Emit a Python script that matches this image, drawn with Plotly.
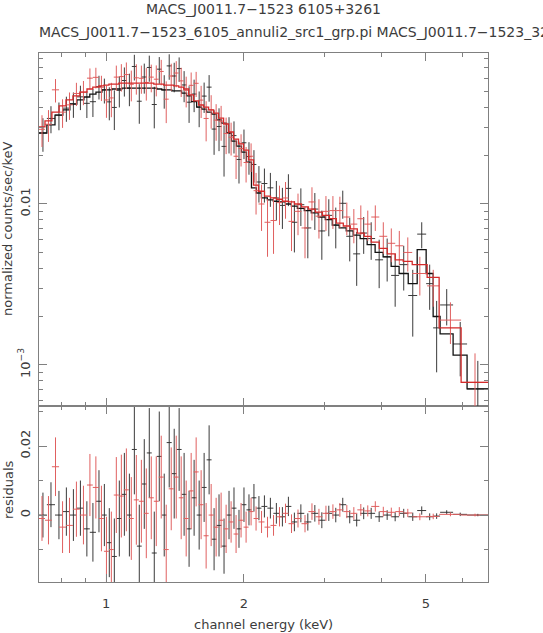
import numpy as np
import plotly.graph_objects as go

# ---------------- data ----------------
# bin edges in keV
black_edges = [0.713, 0.742, 0.773, 0.804, 0.833, 0.863, 0.894, 0.921, 0.950, 0.979,
               1.003, 1.029, 1.055, 1.082, 1.110, 1.138, 1.167, 1.196, 1.227, 1.258,
               1.290, 1.323, 1.356, 1.391, 1.426, 1.462, 1.499, 1.537, 1.577, 1.617,
               1.658, 1.700, 1.743, 1.787, 1.833, 1.879, 1.927, 1.976, 2.026, 2.078,
               2.130, 2.185, 2.251, 2.320, 2.391, 2.465, 2.540, 2.618, 2.711, 2.808,
               2.909, 3.013, 3.121, 3.232, 3.348, 3.467, 3.591, 3.720, 3.872, 4.031,
               4.197, 4.369, 4.574, 4.785, 5.006, 5.185, 5.370, 5.733, 6.151, 6.834]
# folded model (normalized counts/sec/keV)
black_model = [0.0276, 0.0310, 0.0357, 0.0384, 0.0418, 0.0443, 0.0462, 0.0482, 0.0496, 0.0511,
               0.0511, 0.0518, 0.0518, 0.0525, 0.0525, 0.0525, 0.0525, 0.0525, 0.0525, 0.0525,
               0.0518, 0.0511, 0.0511, 0.0504, 0.0504, 0.0489, 0.0469, 0.0432, 0.0400, 0.0388,
               0.0372, 0.0362, 0.0333, 0.0318, 0.0276, 0.0246, 0.0229, 0.0210, 0.0182, 0.0126,
               0.0117, 0.0109, 0.0106, 0.0104, 0.0103, 0.0100, 0.0097, 0.0094, 0.0091, 0.0088,
               0.0083, 0.0080, 0.0074, 0.0071, 0.0068, 0.0064, 0.0061, 0.0056, 0.0050, 0.0047,
               0.0041, 0.0037, 0.0032, 0.0052, 0.0037, 0.0020, 0.00156, 0.00115, 0.00071]
# residuals (data - model), units of 1e-3 counts/sec/keV
black_resid_e3 = [0, 3, 0, 1, 0, 2, -4, -5, 4, 0,
                  -8, -12, -1, 6, 0, 19, -9, 9, 18, -11,
                  17, 0, 21, 12, 19, 6, -4, 5, 0, 8,
                  16, -7, -3, -9, 0, 2, -4, 3, 1.5, 5,
                  2, 2.5, 2, 0.5, -0.5, 2.5, -2, 0.5, -2, 0.5,
                  -1.5, 0.5, 0, 3, -0.5, -1.5, 0.5, 0.5, -0.5, 0,
                  -0.5, 0.5, -0.5, 1.3, -0.5, -0.3, 0.8, 0.2, 0]
# 1-sigma errors, units of 1e-3
black_sigma_e3 = [6.5, 6.5, 7, 7, 7.5, 8, 8, 8.5, 9, 9,
                  10, 11, 11, 12, 12, 13, 12, 13, 13, 12, 13, 12, 13, 13, 12, 12,
                  11, 11, 10, 10, 10, 9, 9, 8,
                  7, 6, 5.5, 5, 4.5, 4, 3.5,
                  3.2, 3.0, 3.0, 2.8, 2.8, 2.7, 2.6, 2.5, 2.4, 2.3, 2.2, 2.1,
                  2.0, 1.9, 1.8, 1.7, 1.6, 1.5, 1.4, 1.3, 1.3, 1.2,
                  1.2, 1.0, 0.8, 0.6, 0.5, 0.35]

red_edges = [0.713, 0.735, 0.761, 0.789, 0.817, 0.846, 0.876, 0.908, 0.935, 0.964,
             0.989, 1.014, 1.039, 1.066, 1.093, 1.121, 1.149, 1.179, 1.209, 1.239,
             1.271, 1.303, 1.336, 1.370, 1.405, 1.441, 1.477, 1.515, 1.553, 1.593,
             1.633, 1.675, 1.718, 1.761, 1.806, 1.852, 1.899, 1.947, 1.997, 2.048,
             2.100, 2.153, 2.219, 2.287, 2.357, 2.429, 2.504, 2.580, 2.673, 2.768,
             2.867, 2.970, 3.076, 3.186, 3.299, 3.417, 3.540, 3.666, 3.797, 3.954,
             4.116, 4.285, 4.461, 4.667, 5.031, 5.344, 5.969, 6.834]
red_model = [0.0301, 0.0328, 0.0372, 0.0407, 0.0443, 0.0469, 0.0496, 0.0518, 0.0532, 0.0541,
             0.0548, 0.0556, 0.0556, 0.0564, 0.0564, 0.0564, 0.0564, 0.0564, 0.0564, 0.0564,
             0.0556, 0.0556, 0.0548, 0.0548, 0.0541, 0.0532, 0.0518, 0.0476, 0.0437, 0.0412,
             0.0400, 0.0384, 0.0367, 0.0342, 0.0314, 0.0280, 0.0253, 0.0236, 0.0216, 0.0188,
             0.0131, 0.0120, 0.0112, 0.0109, 0.0107, 0.0104, 0.0103, 0.0100, 0.0096, 0.0093,
             0.0089, 0.0085, 0.0081, 0.0076, 0.0073, 0.0070, 0.0066, 0.0063, 0.0058, 0.0053,
             0.0049, 0.0045, 0.0044, 0.0042, 0.0035, 0.0017, 0.00078]
red_resid_e3 = [-1, -1.5, 14, -3.5, -3, 1.7, 0, 8.7, 8, -1,
                -10.5, -10, 5.8, 5.5, 7.3, -1, 4.4, 4, 0.5, 5,
                4, 11, -10, 7.6, 11, 5, -1, 7, 12.5, 3,
                -6, 0, -3.5, -1.5, -4, -2, -5.5, -1.5, -3.5, 1,
                -1, -2, -3.5, -3, -0.5, 0.5, -2.5, -1, -2.5, 1,
                -0.5, 0.5, 1, 1.5, 1, 0.5, 1.5, 1.2, 2.5, 1,
                0.8, 1, 0.6, -0.5, -0.4, 0.2, 0]
red_sigma_e3 = [6.5, 7, 8.5, 7.5, 8, 8, 8.5, 9, 9, 9.5,
                10, 11, 11, 12, 12, 12, 13, 12, 13, 12, 13, 12, 13, 12, 12, 12,
                11, 11, 10, 10, 9.5, 9, 8.5, 8,
                7, 6, 5.5, 5, 4.5, 4, 3.5,
                3.2, 3.0, 3.0, 2.8, 2.8, 2.7, 2.6, 2.5, 2.4, 2.3, 2.2, 2.1,
                2.0, 1.9, 1.8, 1.7, 1.6, 1.5, 1.4, 1.35, 1.3, 1.2,
                1.0, 0.8, 0.55, 0.4]

x_tick_vals = [1, 2, 5]
x_tick_text = ["1", "2", "5"]
x_minor_vals = [0.8, 0.9, 3, 4, 6]
y_tick_vals = [0.001, 0.01]
y_tick_text = ["10<sup>\u22123</sup>", "0.01"]
y_minor_vals = [6e-4, 7e-4, 8e-4, 9e-4, 2e-3, 3e-3, 4e-3, 5e-3, 6e-3, 7e-3, 8e-3, 9e-3,
                2e-2, 3e-2, 4e-2, 5e-2, 6e-2, 7e-2, 8e-2]
r_tick_vals = [0, 0.02]
r_tick_text = ["0", "0.02"]
r_minor_vals = [-0.01, 0.01, 0.03]

title1 = "MACS_J0011.7\u22121523 6105+3261"
title2 = "MACS_J0011.7\u22121523_6105_annuli2_src1_grp.pi MACS_J0011.7\u22121523_3261_annuli2_src1_grp.pi"

# ---------------- figure ----------------
BLACK_D = "#3a3a3a"
BLACK_M = "#111111"
RED_D = "#e06060"
RED_M = "#d42a2a"
FRAME = "#808080"
TXT = "#3c3c3c"
FONT = "DejaVu Sans"

fig = go.Figure()


def add_set(edges, model, resid_e3, sigma_e3, dcol, mcol):
    e = np.array(edges)
    lo, hi = e[:-1], e[1:]
    c = 0.5 * (lo + hi)
    m = np.array(model)
    r = np.array(resid_e3) * 1e-3
    s = np.array(sigma_e3) * 1e-3
    d = m + r
    ex = dict(type="data", symmetric=False, array=hi - c, arrayminus=c - lo,
              width=0, thickness=1, color=dcol)
    ey = dict(type="data", array=s, width=0, thickness=1, color=dcol)
    fig.add_trace(go.Scatter(x=c, y=d, mode="markers", marker=dict(size=1, color=dcol),
                             error_x=ex, error_y=ey, xaxis="x2", yaxis="y",
                             showlegend=False, hoverinfo="skip"))
    fig.add_trace(go.Scatter(x=list(e), y=list(m) + [m[-1]], mode="lines",
                             line=dict(shape="hv", width=1.3, color=mcol),
                             xaxis="x2", yaxis="y", showlegend=False, hoverinfo="skip"))
    fig.add_trace(go.Scatter(x=c, y=r, mode="markers", marker=dict(size=1, color=dcol),
                             error_x=ex, error_y=ey, xaxis="x", yaxis="y2",
                             showlegend=False, hoverinfo="skip"))


add_set(black_edges, black_model, black_resid_e3, black_sigma_e3, BLACK_D, BLACK_M)
add_set(red_edges, red_model, red_resid_e3, red_sigma_e3, RED_D, RED_M)

L, R, T, B = 39, 55, 53, 51
W, H = 543, 633
pw, ph = W - L - R, H - T - B
split = (H - B - 406) / ph

xr = [np.log10(0.7132), np.log10(6.834)]
common_x = dict(type="log", range=xr, showgrid=False, zeroline=False,
                showline=True, linecolor=FRAME, linewidth=1, mirror="allticks",
                ticks="inside", ticklen=8, tickcolor=FRAME, tickwidth=1,
                tickmode="array", tickvals=x_tick_vals, ticktext=x_tick_text,
                minor=dict(tickmode="array", tickvals=x_minor_vals, ticks="inside",
                           ticklen=4, tickcolor=FRAME, showgrid=False),
                tickfont=dict(family=FONT, size=13, color=TXT))

fig.update_layout(
    width=W, height=H,
    margin=dict(l=L, r=R, t=T, b=B),
    paper_bgcolor="white", plot_bgcolor="white",
    font=dict(family=FONT, size=13, color=TXT),
    xaxis=dict(common_x, domain=[0, 1], anchor="y2", ticklabelstandoff=9),
    xaxis2=dict(common_x, domain=[0, 1], anchor="y", matches="x", showticklabels=False),
    yaxis=dict(type="log", domain=[split, 1], anchor="x2",
               range=[np.log10(5.56e-4), np.log10(0.0867)],
               showgrid=False, zeroline=False, showline=True, linecolor=FRAME,
               mirror="allticks", ticks="inside", ticklen=8, tickcolor=FRAME,
               tickmode="array", tickvals=y_tick_vals, ticktext=y_tick_text,
               tickangle=-90, ticklabelstandoff=3,
               minor=dict(tickmode="array", tickvals=y_minor_vals, ticks="inside",
                          ticklen=4, tickcolor=FRAME, showgrid=False),
               tickfont=dict(family=FONT, size=13, color=TXT)),
    yaxis2=dict(domain=[0, split], anchor="x", range=[-0.0194, 0.0316],
                showgrid=False, zeroline=False, showline=True, linecolor=FRAME,
                mirror="allticks", ticks="inside", ticklen=8, tickcolor=FRAME,
                tickmode="array", tickvals=r_tick_vals, ticktext=r_tick_text,
                tickangle=-90, ticklabelstandoff=3,
                minor=dict(tickmode="array", tickvals=r_minor_vals, ticks="inside",
                           ticklen=4, tickcolor=FRAME, showgrid=False),
                tickfont=dict(family=FONT, size=13, color=TXT)),
)


def px(x):
    return (x - L) / pw


def py(y):
    return (H - B - y) / ph


ann = dict(xref="paper", yref="paper", showarrow=False,
           font=dict(family=FONT, size=13, color=TXT))
fig.add_annotation(ann, text=title1, x=px(263), y=py(9), xanchor="center", yanchor="middle",
                   font=dict(family=FONT, size=14, color=TXT))
fig.add_annotation(ann, text=title2, x=px(37), y=py(32), xanchor="left", yanchor="middle",
                   font=dict(family=FONT, size=14, color=TXT))
fig.add_annotation(ann, text="normalized counts/sec/keV", x=px(8), y=py(229),
                   textangle=-90, xanchor="center", yanchor="middle")
fig.add_annotation(ann, text="residuals", x=px(8), y=py(490),
                   textangle=-90, xanchor="center", yanchor="middle")
fig.add_annotation(ann, text="channel energy (keV)", x=px(263), y=py(624),
                   xanchor="center", yanchor="middle")

fig.write_html("out.html",
               config={"displayModeBar": False},
               post_script="document.body.style.margin='0px';"
                           "document.body.style.overflow='hidden';")
